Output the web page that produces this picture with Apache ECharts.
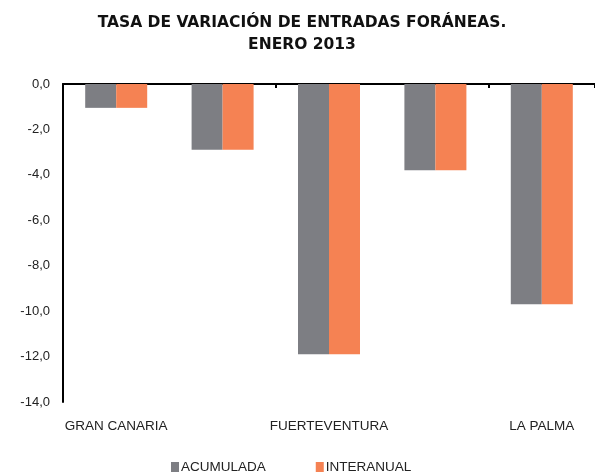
<!DOCTYPE html>
<html><head><meta charset="utf-8">
<script src="https://cdn.jsdelivr.net/npm/echarts@6/dist/echarts.min.js"></script>
<style>html,body{margin:0;padding:0;background:#fff}#c{width:595px;height:475px}</style>
</head><body><div id="c"></div>
<script>
const categories = ['GRAN CANARIA', 'LANZAROTE', 'FUERTEVENTURA', 'TENERIFE', 'LA PALMA'];
const acumulada = [-1.05, -2.9, -11.9, -3.8, -9.7];
const interanual = [-1.05, -2.9, -11.9, -3.8, -9.7];
const seriesNames = ['ACUMULADA', 'INTERANUAL'];
const titleText = 'TASA DE VARIACIÓN DE ENTRADAS FORÁNEAS.\nENERO 2013';

const chart = echarts.init(document.getElementById('c'), null, {renderer: 'canvas'});
const font = '"Liberation Sans", Arial, sans-serif';
chart.setOption({
  animation: false,
  title: {
    text: titleText, left: 297, textAlign: 'center', top: 7,
    textStyle: {fontFamily: '"DejaVu Sans", sans-serif', fontSize: 15.5, fontWeight: 'bold', color: '#111', lineHeight: 22}
  },
  legend: {
    data: seriesNames, bottom: -4, left: 166, itemWidth: 8, itemHeight: 10, itemGap: 50,
    icon: 'rect',
    textStyle: {fontFamily: font, fontSize: 13.5, color: '#222', padding: [0,0,0,-3]}
  },
  grid: {left: 63, right: 0, top: 84, bottom: 73, containLabel: false},
  xAxis: [{
    type: 'category', data: categories, position: 'top',
    axisLine: {show: true, lineStyle: {color: '#000', width: 2}, onZero: true},
    axisTick: {show: true, inside: true, length: 4, lineStyle: {color: '#000', width: 2}},
    axisLabel: {show: false}
  }, {
    type: 'category', data: categories, position: 'bottom',
    axisLine: {show: false}, axisTick: {show: false},
    axisLabel: {interval: 1, fontFamily: font, fontSize: 13.5, color: '#222', margin: 17}
  }],
  yAxis: {
    type: 'value', min: -14, max: 0, interval: 2,
    axisLine: {show: true, lineStyle: {color: '#000', width: 2}},
    axisTick: {show: false},
    splitLine: {show: false},
    axisLabel: {fontFamily: font, fontSize: 13, color: '#222', margin: 13,
      formatter: v => v.toFixed(1).replace('.', ',')}
  },
  series: [
    {name: seriesNames[0], type: 'bar', data: acumulada, barWidth: 31, barGap: '0%', itemStyle: {color: '#7d7e83'}},
    {name: seriesNames[1], type: 'bar', data: interanual, barWidth: 31, barGap: '0%', itemStyle: {color: '#f58253'}}
  ]
});
</script></body></html>
